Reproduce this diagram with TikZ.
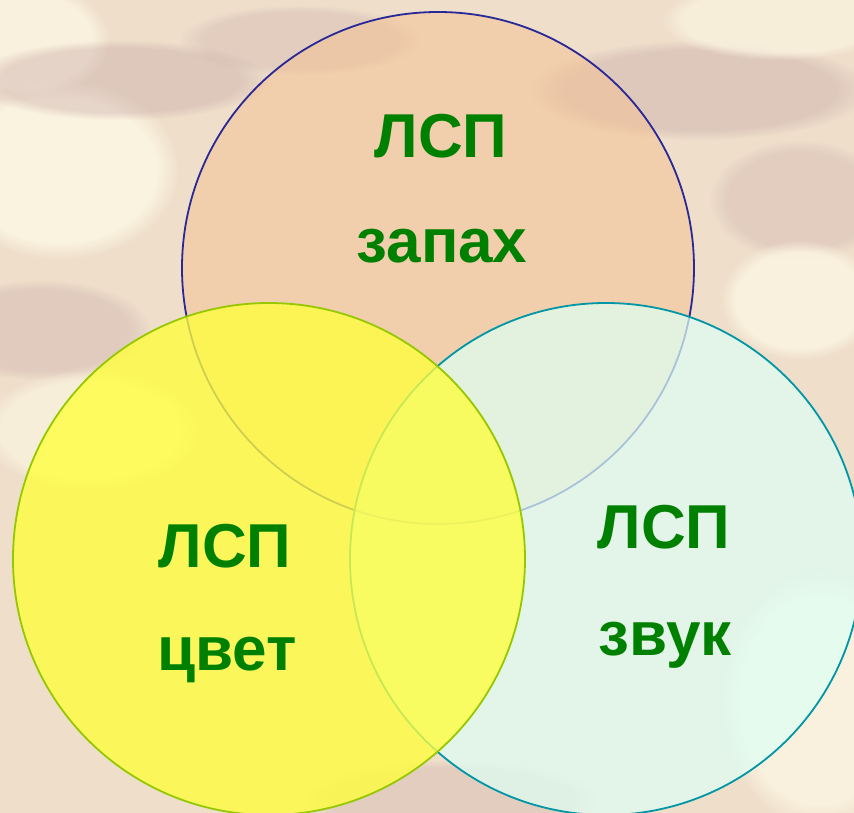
\documentclass[tikz,border=0pt]{standalone}
\usepackage{fontspec}
\setmainfont{Liberation Sans}
\usetikzlibrary{fadings}
\definecolor{paper}{RGB}{238,222,202}
\definecolor{cream}{RGB}{252,246,226}
\definecolor{mauve}{RGB}{200,168,168}
\definecolor{peach}{RGB}{244,194,148}
\definecolor{mint}{RGB}{222,255,244}
\definecolor{lemon}{RGB}{255,255,60}
\definecolor{leafgreen}{RGB}{0,128,0}
\definecolor{navyline}{RGB}{40,40,150}
\definecolor{tealline}{RGB}{0,150,165}
\definecolor{limeline}{RGB}{150,200,0}
\tikzset{
  blob/.style={fill=#1, path fading=circle with fuzzy edge 20 percent},
  ring/.style={line width=1.8pt},
  label/.style={text=leafgreen, font=\bfseries\fontsize{62}{62}\selectfont, inner sep=0pt, anchor=base}
}
\begin{document}
\begin{tikzpicture}[x=1pt,y=-1pt]
  % canvas and textured backdrop
  \fill[paper] (0,0) rectangle (854,813);
  \useasboundingbox (0,0) rectangle (854,813);
  \begin{scope}
    \clip (0,0) rectangle (854,813);
    \fill[blob=cream, opacity=0.9] (60,170) ellipse (120 and 90);
    \fill[blob=cream, opacity=0.8] (20,40) ellipse (90 and 60);
    \fill[blob=mauve, opacity=0.4] (120,80) ellipse (150 and 40);
    \fill[blob=mauve, opacity=0.35] (40,330) ellipse (110 and 50);
    \fill[blob=cream, opacity=0.7] (90,430) ellipse (110 and 60);
    \fill[blob=mauve, opacity=0.4] (700,90) ellipse (170 and 50);
    \fill[blob=mauve, opacity=0.3] (800,200) ellipse (90 and 60);
    \fill[blob=cream, opacity=0.7] (780,20) ellipse (120 and 40);
    \fill[blob=cream, opacity=0.8] (800,300) ellipse (80 and 60);
    \fill[blob=cream, opacity=0.8] (820,700) ellipse (100 and 130);
    \fill[blob=mauve, opacity=0.3] (450,800) ellipse (150 and 40);
    \fill[blob=mauve, opacity=0.3] (300,40) ellipse (120 and 35);
  \end{scope}

  % the three overlapping fields
  \node[circle, minimum size=512pt, fill=peach, fill opacity=0.55, draw=navyline, ring] (smell) at (438,268) {};
  \node[circle, minimum size=512pt, fill=mint, fill opacity=0.72, draw=tealline, ring] (sound) at (606,559) {};
  \node[circle, minimum size=512pt, fill=lemon, fill opacity=0.78, draw=limeline, ring] (colour) at (269,559) {};

  % labels
  \node[label] (smellA) at (441,158) {ЛСП};
  \node[label] (smellB) at (442,262) {запах};
  \node[label] (colourA) at (225,567) {ЛСП};
  \node[label] (colourB) at (227,670) {цвет};
  \node[label] (soundA) at (664,548) {ЛСП};
  \node[label] (soundB) at (665,655) {звук};
\end{tikzpicture}
\end{document}
